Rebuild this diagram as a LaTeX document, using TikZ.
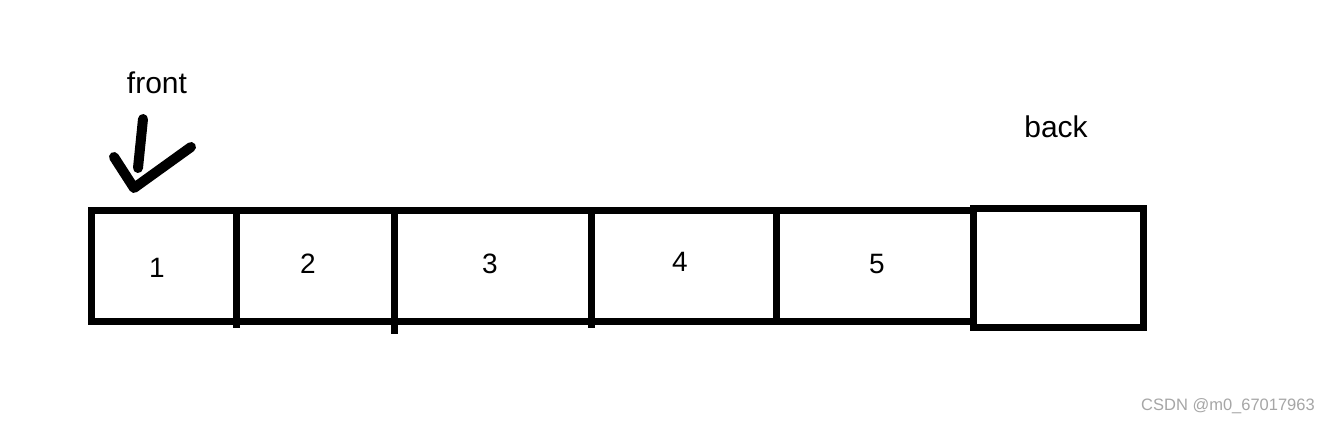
\documentclass[tikz,border=0pt]{standalone}
\usepackage{fontspec}
\setmainfont{Liberation Sans}
\begin{document}
\begin{tikzpicture}[x=1pt,y=-1pt,
  cell/.style={draw=black, line width=7pt, rectangle, inner sep=0pt, outer sep=0pt},
  lbl/.style={font=\fontsize{30}{34}\selectfont, inner sep=0pt},
  num/.style={font=\fontsize{28}{31}\selectfont, inner sep=0pt},
  pen/.style={line width=10pt, line cap=round, line join=round}]
\useasboundingbox[fill=white] (0,0) rectangle (1330,424);
% cells
\node[cell, minimum width=145pt, minimum height=111pt] (c1) at (164,266) {};
\node[cell, minimum width=158pt, minimum height=111pt] (c2) at (315.5,266) {};
\node[cell, minimum width=197pt, minimum height=111pt] (c3) at (493,266) {};
\node[cell, minimum width=184.5pt, minimum height=111pt] (c4) at (683.75,266) {};
\node[cell, minimum width=197.5pt, minimum height=111pt] (c5) at (874.75,266) {};
\node[cell, minimum width=169.5pt, minimum height=119pt] (c6) at (1058.25,268) {};
% divider stubs below the row
\draw[line width=7pt] (c1.south east) -- ++(0,6);
\draw[line width=7pt] (c2.south east) -- ++(0,12);
\draw[line width=7pt] (c3.south east) -- ++(0,6);
% numbers
\node[num] (n1) at (157,268) {1};
\node[num] (n2) at (308,264) {2};
\node[num] (n3) at (490,264) {3};
\node[num] (n4) at (680,262) {4};
\node[num] (n5) at (877,264) {5};
% labels
\node[lbl, anchor=base] (front) at (157,93) {front};
\node[lbl, anchor=base] (back) at (1056,137) {back};
% hand-drawn arrow
\draw[pen] (143,119) -- (138,168);
\draw[pen] (114,157) -- (134,188) -- (191,147);
% watermark
\node[font=\fontsize{16.5}{18}\selectfont, text=black!35, anchor=east, inner sep=0pt] (wm) at (1315,406) {CSDN @m0\_67017963};
\end{tikzpicture}
\end{document}
